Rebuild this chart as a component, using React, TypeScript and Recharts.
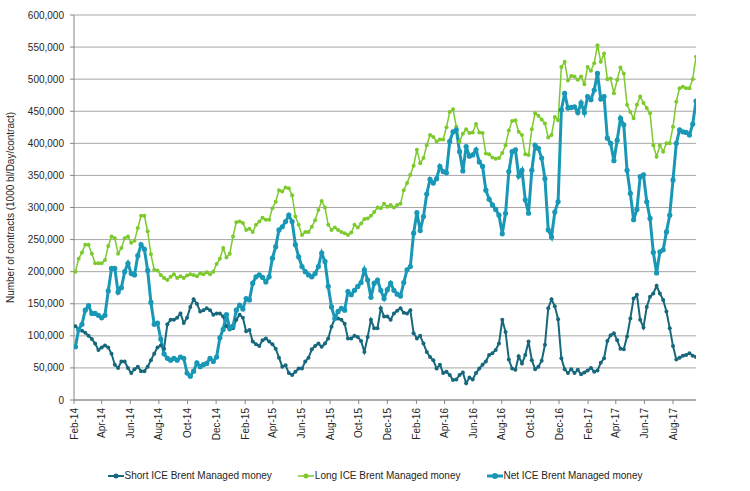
import { LineChart, Line, XAxis, YAxis, CartesianGrid } from "recharts";

// ICE Brent managed money positions, weekly from 4 Feb 2014 (thousand contracts)
const firstWeek = Date.UTC(2014, 1, 4);
const DAY = 86400000;

const shortMM = [
  115, 110, 108, 105, 100, 95, 88, 78, 82, 85, 82, 72, 55, 50, 60, 60, 50, 42, 48, 52,
  45, 45, 52, 62, 72, 82, 85, 80, 118, 125, 125, 128, 135, 120, 128, 145, 157, 150, 138, 140,
  143, 140, 133, 135, 135, 130, 115, 110, 112, 125, 133, 128, 107,
  109, 91, 87, 84, 93, 96, 91, 87, 80, 66, 52, 54, 42, 39, 44, 49, 49, 60, 66, 79,
  84, 88, 83, 88, 96, 114, 127, 127,
  125, 119, 96, 96, 100, 98, 92, 75, 98, 125, 112, 112, 143, 130, 130, 125, 135, 139, 143, 136,
  135, 140, 104, 96, 100, 88, 75, 67, 62,
  49, 55, 42, 44, 39, 31, 32, 39, 43, 26, 35, 32, 42, 49, 55, 60, 70, 73, 78, 88,
  125, 106, 63, 49, 47, 68, 57,
  70, 91, 62, 48, 52, 61, 86, 143, 157, 146, 126, 65, 48, 42, 48, 42, 47, 40, 43, 46,
  50, 44, 46, 58, 65, 92, 101,
  104, 93, 80, 79, 99, 127, 158, 164, 125, 113, 145, 161, 166, 178, 166, 156, 138, 112, 84, 63,
  66, 69, 70, 73, 69, 67,
];

const longMM = [
  200, 220, 230, 242, 242, 228, 213, 213, 213, 218, 240, 255, 252, 228, 237, 252, 255, 245, 248, 268,
  287, 287, 263, 227, 203, 202, 195, 190, 187, 192, 196, 190, 193, 190, 194, 196, 195, 193, 197, 196,
  199, 196, 200, 212, 220, 237, 222, 228, 255, 277, 278, 276, 265,
  267, 262, 273, 278, 284, 281, 281, 299, 309, 327, 325, 331, 330, 319, 286, 273, 257, 262, 262, 270,
  280, 296, 310, 300, 273, 265, 269, 265,
  262, 260, 257, 261, 273, 269, 275, 282, 283, 287, 293, 300, 299, 306, 301, 304, 300, 304, 306, 327,
  338, 351, 365, 390, 369, 377, 397, 413, 410,
  403, 406, 406, 425, 449, 453, 426, 403, 415, 422, 416, 417, 430, 417, 416, 384, 383, 378, 376, 377,
  385, 397, 420, 435, 436, 418, 413,
  383, 382, 422, 447, 443, 437, 431, 409, 413, 441, 436, 519, 527, 498, 505, 504, 499, 504, 492, 519,
  513, 525, 553, 527, 540, 500, 501,
  478, 499, 518, 509, 460, 449, 439, 460, 473, 463, 455, 447, 397, 379, 397, 387, 400, 400, 426, 465,
  486, 488, 486, 486, 500, 535,
];

const netMM = [
  83, 110, 118, 140, 147, 135, 135, 132, 128, 132, 170, 205, 205, 168, 175, 200, 213, 197, 195, 225,
  242, 235, 202, 152, 118, 120, 95, 72, 65, 62, 65, 62, 67, 65, 42, 37, 45, 58, 52, 55,
  57, 65, 60, 67, 97, 110, 133, 112, 115, 140, 148, 142, 158,
  156, 182, 192, 195, 191, 184, 192, 221, 239, 265, 270, 278, 288, 278, 242, 223, 208, 200, 195, 192,
  197, 208, 229, 216, 177, 145, 127, 138,
  143, 140, 169, 164, 171, 177, 183, 203, 187, 160, 182, 187, 171, 158, 172, 182, 171, 165, 162, 183,
  203, 208, 260, 292, 264, 286, 321, 344, 338,
  345, 364, 356, 354, 403, 418, 421, 387, 357, 395, 380, 382, 390, 371, 364, 327, 313, 304, 297, 288,
  259, 291, 356, 387, 390, 349, 358,
  312, 291, 358, 397, 392, 377, 345, 265, 254, 293, 309, 452, 478, 455, 456, 457, 448, 463, 448, 473,
  468, 483, 509, 469, 473, 408, 400,
  373, 405, 439, 429, 358, 322, 281, 297, 348, 351, 309, 283, 230, 198, 231, 234, 262, 288, 343, 400,
  421, 418, 417, 413, 430, 466,
];

const tickLabels = [
  "Feb-14", "Apr-14", "Jun-14", "Aug-14", "Oct-14", "Dec-14",
  "Feb-15", "Apr-15", "Jun-15", "Aug-15", "Oct-15", "Dec-15",
  "Feb-16", "Apr-16", "Jun-16", "Aug-16", "Oct-16", "Dec-16",
  "Feb-17", "Apr-17", "Jun-17", "Aug-17",
];

const yTicks = [0, 50000, 100000, 150000, 200000, 250000, 300000, 350000, 400000, 450000, 500000, 550000, 600000];

const MONTHS: Record<string, number> = {
  Jan: 0, Feb: 1, Mar: 2, Apr: 3, May: 4, Jun: 5, Jul: 6, Aug: 7, Sep: 8, Oct: 9, Nov: 10, Dec: 11,
};

const SHORT_C = "#17687c";
const LONG_C = "#7cca2c";
const NET_C = "#1898b6";
const FONT = "'Liberation Sans', Arial, sans-serif";
const TEXT_C = "#262626";

const data = netMM.map((_, i) => ({
  t: firstWeek + i * 7 * DAY,
  short: shortMM[i] * 1000,
  long: longMM[i] * 1000,
  net: netMM[i] * 1000,
}));

const tickTimes = tickLabels.map((l) => {
  const [m, y] = l.split("-");
  return Date.UTC(2000 + Number(y), MONTHS[m], 1);
});

const labelFor = (t: number) => tickLabels[tickTimes.indexOf(t)] ?? "";

function XTick({ x, y, payload }: any) {
  const tx = x + 3.5;
  const ty = y + 2;
  return (
    <text
      x={tx}
      y={ty}
      transform={`rotate(-90, ${tx}, ${ty})`}
      textAnchor="end"
      fontSize={10}
      fontFamily={FONT}
      fill={TEXT_C}
    >
      {labelFor(payload.value)}
    </text>
  );
}

const legendItems = [
  { name: "Short ICE Brent Managed money", color: SHORT_C, w: 2, r: 2 },
  { name: "Long ICE Brent Managed money", color: LONG_C, w: 1.5, r: 2 },
  { name: "Net ICE Brent Managed money", color: NET_C, w: 3, r: 2.5 },
];

export default function App() {
  return (
    <div style={{ position: "absolute", left: 0, top: 0, width: 750, height: 491, background: "#fff" }}>
      <LineChart
        width={750}
        height={491}
        data={data}
        margin={{ top: 15, right: 54, bottom: 61, left: 0 }}
      >
        <CartesianGrid vertical={false} stroke="#a6a6a6" />
        <XAxis
          dataKey="t"
          type="number"
          height={30}
          domain={[tickTimes[0], data[data.length - 1].t]}
          ticks={tickTimes}
          tick={<XTick />}
          tickSize={4}
          tickMargin={2}
          interval={0}
          stroke="#868686"
          allowDataOverflow
        />
        <YAxis
          width={74}
          domain={[0, 600000]}
          ticks={yTicks}
          tickFormatter={(v: number) => v.toLocaleString("en-US")}
          tick={{ fontSize: 10, fontFamily: FONT, fill: TEXT_C }}
          tickSize={4}
          tickMargin={6}
          stroke="#868686"
          interval={0}
          label={{
            value: "Number of contracts (1000 bl/Day/contract)",
            angle: -90,
            position: "insideLeft",
            offset: 10,
            style: { fontSize: 10, fontFamily: FONT, fill: TEXT_C, textAnchor: "middle" },
          }}
        />
        <Line
          dataKey="short"
          stroke={SHORT_C}
          strokeWidth={2}
          dot={{ r: 2, fill: SHORT_C, stroke: SHORT_C, strokeWidth: 0 }}
          isAnimationActive={false}
        />
        <Line
          dataKey="long"
          stroke={LONG_C}
          strokeWidth={1.5}
          dot={{ r: 2, fill: LONG_C, stroke: LONG_C, strokeWidth: 0 }}
          isAnimationActive={false}
        />
        <Line
          dataKey="net"
          stroke={NET_C}
          strokeWidth={3}
          dot={{ r: 2.6, fill: NET_C, stroke: NET_C, strokeWidth: 0 }}
          isAnimationActive={false}
        />
      </LineChart>
      <div
        style={{
          position: "absolute",
          left: 0,
          top: 470,
          width: 750,
          display: "flex",
          justifyContent: "center",
          gap: 26,
          fontFamily: FONT,
          fontSize: 10,
          color: TEXT_C,
        }}
      >
        {legendItems.map((it) => (
          <span key={it.name} style={{ display: "flex", alignItems: "center" }}>
            <svg width={16} height={10} style={{ marginRight: 1 }}>
              <line x1={0} y1={5} x2={16} y2={5} stroke={it.color} strokeWidth={it.w} />
              <circle cx={8} cy={5} r={it.r + 0.5} fill={it.color} />
            </svg>
            <span>{it.name}</span>
          </span>
        ))}
      </div>
    </div>
  );
}
